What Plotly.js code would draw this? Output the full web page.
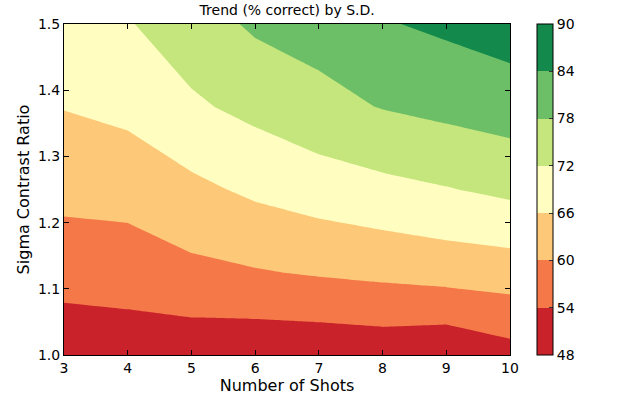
<!DOCTYPE html>
<html>
<head>
<meta charset="utf-8">
<script src="https://cdn.plot.ly/plotly-3.0.1.min.js"></script>
<style>html,body{margin:0;padding:0;background:#fff;}#chart{width:640px;height:395px;}</style>
</head>
<body>
<div id="chart"></div>
<script>
// Number of shots (x) and sigma contrast ratio (y)
var shots = [3, 4, 5, 6, 7, 8, 9, 10];
var sigmaRatio = [1.0, 1.125, 1.25, 1.375, 1.5];
// % correct, one row per sigma ratio
var pctRow1000 = [50.4, 50.8, 50.2, 49.7, 49.7, 50.2, 49.1, 51.8];
var pctRow1125 = [56.1, 56.6, 58.6, 59.6, 60.6, 61.4, 62.4, 63.0];
var pctRow1250 = [61.9, 62.3, 64.6, 67.1, 68.9, 70.4, 71.7, 73.3];
var pctRow1375 = [66.2, 67.5, 71.1, 73.6, 76.2, 78.25, 79.6, 80.9];
var pctRow1500 = [69.5, 71.6, 75.2, 78.9, 80.3, 83.55, 85.1, 86.8];
var levels = [48, 54, 60, 66, 72, 78, 84, 90];
var bandColors = ['#c9222a', '#f57849', '#fdc878', '#fffec0', '#c5e67d', '#6dbf67', '#138a4b'];

var z = [pctRow1000, pctRow1125, pctRow1250, pctRow1375, pctRow1500];
var nb = bandColors.length;
var cs = [];
for (var i = 0; i < nb; i++) {
  cs.push([i / nb, bandColors[i]]);
  cs.push([(i + 1) / nb, bandColors[i]]);
}

var font = 'DejaVu Sans, sans-serif';
var trace = {
  type: 'contour',
  x: shots, y: sigmaRatio, z: z,
  autocontour: false,
  contours: {start: levels[0], end: levels[levels.length - 1], size: levels[1] - levels[0], coloring: 'fill', showlines: false},
  line: {width: 0, smoothing: 0},
  colorscale: cs,
  zmin: levels[0], zmax: levels[levels.length - 1],
  colorbar: {
    x: 1.061, xanchor: 'left', y: 0.5, yanchor: 'middle',
    len: 1, lenmode: 'fraction', thickness: 16, thicknessmode: 'pixels',
    outlinewidth: 1, outlinecolor: '#000',
    tickmode: 'array', tickvals: levels, ticktext: levels.map(String),
    ticks: 'inside', ticklen: 4, tickcolor: '#333',
    tickfont: {family: font, size: 14, color: '#000'},
    xpad: 0, ypad: 0
  },
  hoverinfo: 'x+y+z'
};

var layout = {
  width: 640, height: 395,
  margin: {l: 64, r: 130, t: 24, b: 40},
  paper_bgcolor: '#fff', plot_bgcolor: '#fff',
  title: {text: 'Trend (% correct) by S.D.', font: {family: font, size: 14, color: '#000'}, x: 0.4487, xanchor: 'center', y: 0.975, yanchor: 'middle'},
  xaxis: {
    range: [3, 10], tickmode: 'array', tickvals: shots, ticktext: shots.map(String),
    ticks: 'inside', ticklen: 5, tickcolor: '#000', mirror: 'ticks',
    showline: true, linecolor: '#000', linewidth: 1, showgrid: false, zeroline: false,
    tickfont: {family: font, size: 14, color: '#000'},
    title: {text: 'Number of Shots', font: {family: font, size: 16, color: '#000'}, standoff: 2}
  },
  yaxis: {
    range: [1.0, 1.5], tickmode: 'linear', tick0: 1.0, dtick: 0.1, tickformat: '.1f',
    ticks: 'inside', ticklen: 5, tickcolor: '#000', mirror: 'ticks',
    showline: true, linecolor: '#000', linewidth: 1, showgrid: false, zeroline: false,
    tickfont: {family: font, size: 14, color: '#000'},
    title: {text: 'Sigma Contrast Ratio', font: {family: font, size: 16, color: '#000'}, standoff: 4}
  }
};

Plotly.newPlot('chart', [trace], layout, {displayModeBar: false, staticPlot: true});
</script>
</body>
</html>
